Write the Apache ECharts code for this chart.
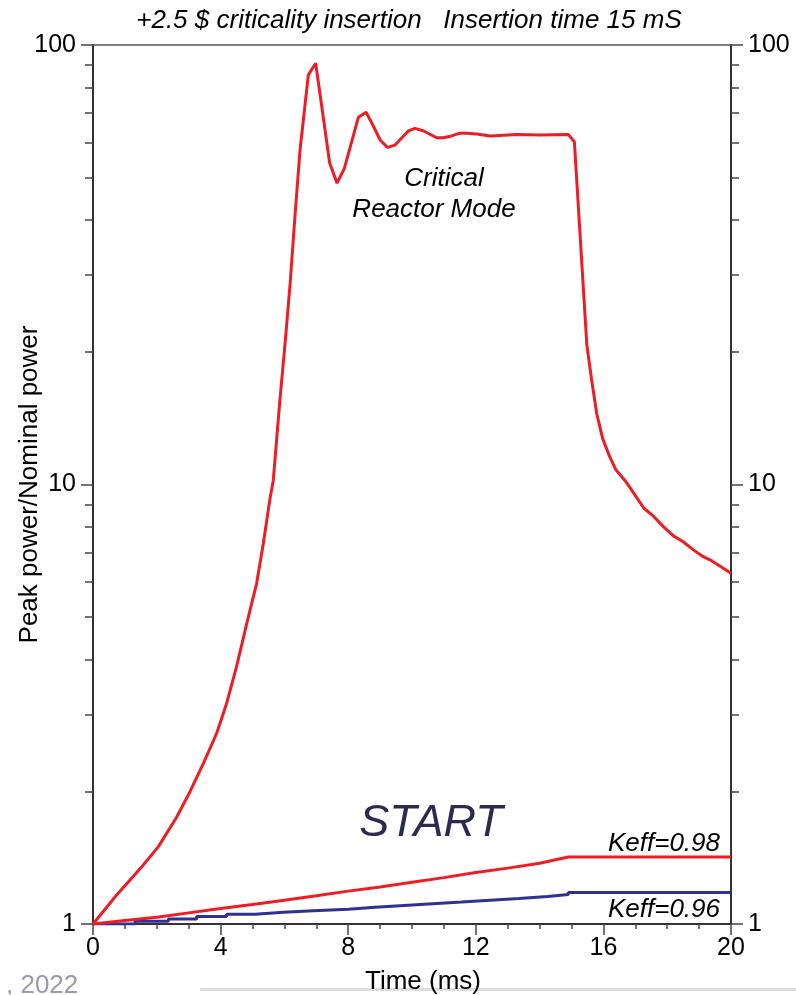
<!DOCTYPE html>
<html>
<head>
<meta charset="utf-8">
<script src="https://cdn.jsdelivr.net/npm/echarts@6/dist/echarts.min.js"></script>
<style>
  html, body { margin: 0; padding: 0; background: #fff; }
  #chart { width: 796px; height: 995px; }
</style>
</head>
<body>
<div id="chart"></div>
<script>
// critical mode power curve (ms, P/Pnom)
const timeMain = [0, 0.74, 1.53, 2.05, 2.62, 3.04, 3.46, 3.88, 4.19, 4.50, 4.82, 5.13, 5.34, 5.55, 5.65, 5.86, 6.02, 6.18, 6.33, 6.49, 6.75, 6.98, 7.42, 7.65, 7.88, 8.32, 8.56, 8.77, 9.00, 9.23, 9.47, 9.89, 10.09, 10.35, 10.77, 10.98, 11.24, 11.50, 11.71, 12.03, 12.45, 13.28, 14.01, 14.90, 15.09, 15.48, 15.63, 15.79, 15.98, 16.19, 16.39, 16.68, 16.94, 17.27, 17.56, 17.88, 18.19, 18.50, 18.82, 19.13, 19.39, 20.0]
const powerMain = [1.0, 1.164, 1.35, 1.50, 1.75, 2.0, 2.32, 2.72, 3.18, 3.85, 4.83, 5.96, 7.35, 9.3, 10.2, 15.6, 20.9, 28.7, 40.7, 57.7, 85.5, 90.9, 53.8, 48.5, 52.4, 68.5, 70.3, 65.8, 60.8, 58.5, 59.2, 63.8, 64.6, 63.8, 61.5, 61.5, 62.1, 63.0, 63.0, 62.7, 62.1, 62.6, 62.4, 62.6, 60.2, 20.8, 17.3, 14.5, 12.7, 11.6, 10.8, 10.2, 9.58, 8.83, 8.48, 8.02, 7.64, 7.41, 7.10, 6.85, 6.71, 6.28]

// Keff = 0.98
const timeK98 = [0, 1, 2, 3, 4, 5, 6, 7, 8, 9, 10, 11, 12, 13, 14, 14.9, 20]
const powerK98 = [1.0, 1.018, 1.036, 1.06, 1.084, 1.108, 1.133, 1.16, 1.188, 1.214, 1.244, 1.275, 1.31, 1.34, 1.375, 1.42, 1.42]

// Keff = 0.96 (stepped: time of each step, level after the step)
const timeK96 = [0, 1.32, 2.36, 3.25, 4.19, 5.08, 5.97, 6.91, 8.0, 8.84, 9.75, 10.65, 11.55, 12.45, 13.35, 14.25, 14.9, 20]
const powerK96 = [1.0, 1.015, 1.027, 1.04, 1.053, 1.063, 1.072, 1.081, 1.092, 1.102, 1.112, 1.122, 1.133, 1.143, 1.155, 1.167, 1.18, 1.18]

const yMajor = [1, 10, 100]
const yMinor = [2, 3, 4, 5, 6, 7, 8, 9, 20, 30, 40, 50, 60, 70, 80, 90]

const FONT = 'Liberation Sans, Arial, Helvetica, sans-serif'
const zip = (xs, ys) => xs.map((x, i) => [x, ys[i]])
// staircase: hold previous level up to the step time, then jump
const stairs = (xs, ys) => {
  const out = [[xs[0], ys[0]]]
  for (let i = 1; i < xs.length; i++) {
    out.push([xs[i], ys[i - 1]])
    out.push([xs[i], ys[i]])
  }
  return out
}

const chart = echarts.init(document.getElementById('chart'))

const yAxisBase = (pos, major) => ({
  type: 'log',
  logBase: 10,
  min: 1,
  max: 100,
  position: pos,
  axisLine: { show: true, lineStyle: { color: '#333', width: 2 } },
  axisTick: {
    show: true,
    length: major ? 12 : 8,
    customValues: major ? yMajor : yMinor,
    lineStyle: { color: '#444', width: 1.5 }
  },
  axisLabel: major
    ? { show: true, customValues: yMajor, color: '#000', fontSize: 25, fontFamily: FONT, margin: 17 }
    : { show: false },
  splitLine: { show: false }
})

const leftMajor = yAxisBase('left', true)
leftMajor.name = 'Peak power/Nominal power'
leftMajor.nameLocation = 'middle'
leftMajor.nameRotate = 90
leftMajor.nameGap = 50
leftMajor.nameMoveOverlap = false
leftMajor.nameTextStyle = { color: '#000', fontSize: 26, fontFamily: FONT }

const option = {
  animation: false,
  backgroundColor: '#fff',
  grid: { left: 93, right: 65, top: 45, bottom: 71, containLabel: false, outerBoundsMode: 'none' },
  xAxis: [
    {
      type: 'value',
      min: 0,
      max: 20,
      interval: 4,
      position: 'bottom',
      name: 'Time (ms)',
      nameLocation: 'middle',
      nameGap: 45,
      nameMoveOverlap: false,
      nameTextStyle: { color: '#000', fontSize: 26, fontFamily: FONT, padding: [0, 0, 0, 22] },
      axisLine: { show: true, lineStyle: { color: '#333', width: 2 } },
      axisTick: { show: true, length: 11, lineStyle: { color: '#444', width: 1.5 } },
      minorTick: { show: true, splitNumber: 4, length: 5, lineStyle: { color: '#444', width: 1.5 } },
      axisLabel: { color: '#000', fontSize: 25, fontFamily: FONT, margin: 12 },
      splitLine: { show: false }
    },
    {
      type: 'value',
      min: 0,
      max: 20,
      position: 'top',
      axisLine: { show: true, lineStyle: { color: '#555', width: 1.5 } },
      axisTick: { show: false },
      axisLabel: { show: false },
      splitLine: { show: false }
    }
  ],
  yAxis: [
    leftMajor,
    yAxisBase('left', false),
    yAxisBase('right', true),
    yAxisBase('right', false)
  ],
  series: [
    {
      type: 'line',
      data: stairs(timeK96, powerK96),
      showSymbol: false,
      lineStyle: { color: '#2e3192', width: 3 }
    },
    {
      type: 'line',
      data: zip(timeK98, powerK98),
      showSymbol: false,
      lineStyle: { color: '#ee1c25', width: 3 }
    },
    {
      type: 'line',
      data: zip(timeMain, powerMain),
      showSymbol: false,
      lineStyle: { color: '#ee1c25', width: 3 }
    }
  ],
  graphic: [
    {
      type: 'text',
      style: {
        text: '+2.5 $ criticality insertion   Insertion time 15 mS',
        x: 409, y: 21, align: 'center', verticalAlign: 'middle',
        font: 'italic 26px ' + FONT, fill: '#000'
      }
    },
    {
      type: 'text',
      style: { text: 'Critical', x: 444, y: 179, align: 'center', verticalAlign: 'middle', font: 'italic 26px ' + FONT, fill: '#000' }
    },
    {
      type: 'text',
      style: { text: 'Reactor Mode', x: 434, y: 210, align: 'center', verticalAlign: 'middle', font: 'italic 26px ' + FONT, fill: '#000' }
    },
    {
      type: 'text',
      style: { text: 'START', x: 431, y: 823, align: 'center', verticalAlign: 'middle', font: 'italic 45px ' + FONT, fill: '#2b2b4f' }
    },
    {
      type: 'text',
      style: { text: 'Keff=0.98', x: 720, y: 844, align: 'right', verticalAlign: 'middle', font: 'italic 26px ' + FONT, fill: '#000' }
    },
    {
      type: 'text',
      style: { text: 'Keff=0.96', x: 720, y: 910, align: 'right', verticalAlign: 'middle', font: 'italic 26px ' + FONT, fill: '#000' }
    },
    {
      type: 'text',
      style: { text: ', 2022', x: 6, y: 973, align: 'left', verticalAlign: 'top', font: '26px ' + FONT, fill: '#9b99ad' }
    },
    {
      type: 'line', z: -1,
      shape: { x1: 200, y1: 989.5, x2: 796, y2: 989.5 },
      style: { stroke: '#dcdce4', lineWidth: 3 }
    }
  ]
}

chart.setOption(option)
window.addEventListener('resize', () => chart.resize())
</script>
</body>
</html>
